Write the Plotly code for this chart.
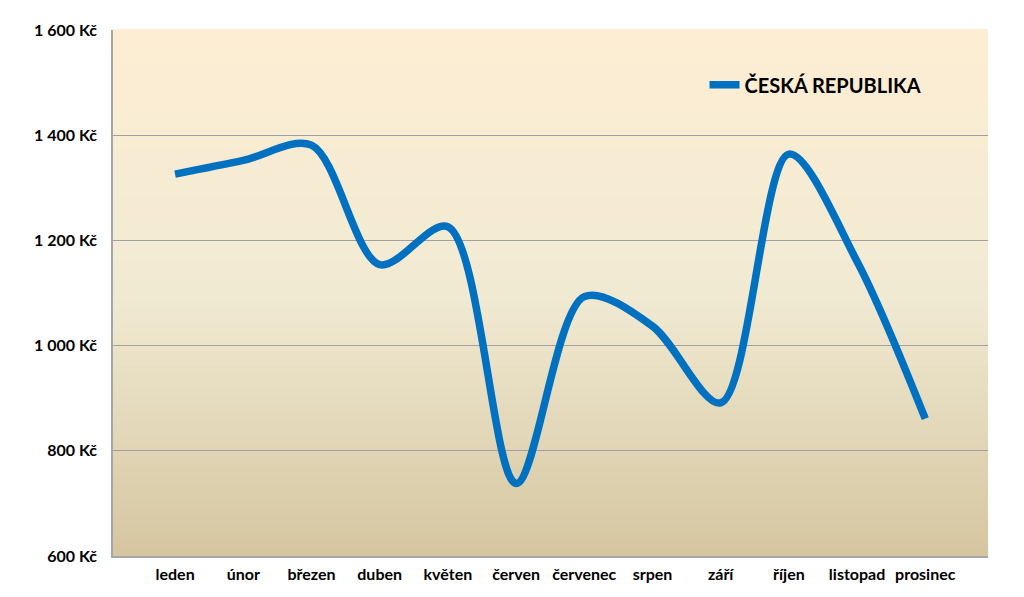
import plotly.graph_objects as go

months = ["leden", "únor", "březen", "duben", "květen", "červen",
          "červenec", "srpen", "září", "říjen", "listopad", "prosinec"]
prices = [1326, 1352, 1381, 1154, 1226, 738, 1093, 1037, 891, 1364, 1160, 861]
series_name = "ČESKÁ REPUBLIKA"
y_ticks = [600, 800, 1000, 1200, 1400, 1600]
y_tick_text = ["600 Kč", "800 Kč", "1 000 Kč", "1 200 Kč", "1 400 Kč", "1 600 Kč"]

fig = go.Figure()
fig.add_trace(go.Scatter(
    x=list(range(len(months))), y=prices, name=series_name, mode="lines",
    line=dict(color="#0070C0", width=7.5, shape="spline", smoothing=0.9),
))

# vertical gradient background
def lerp(c1, c2, t):
    return tuple(round(a + (b - a) * t) for a, b in zip(c1, c2))

stops = [(0.0, (0xD5, 0xC6, 0xA0)), (0.5, (0xF1, 0xEA, 0xD3)), (1.0, (0xFD, 0xEE, 0xD3))]
n = 80
shapes = []
for i in range(n):
    t = (i + 0.5) / n
    for j in range(len(stops) - 1):
        if stops[j][0] <= t <= stops[j + 1][0]:
            tt = (t - stops[j][0]) / (stops[j + 1][0] - stops[j][0])
            c = lerp(stops[j][1], stops[j + 1][1], tt)
            break
    shapes.append(dict(type="rect", xref="x domain", yref="y domain",
                       x0=0, x1=1, y0=i / n, y1=(i + 1) / n + 0.002,
                       fillcolor="rgb(%d,%d,%d)" % c, line=dict(width=0),
                       layer="below"))

font_family = "Lato"
fig.update_layout(
    width=1016, height=589,
    margin=dict(l=105, r=36, t=19, b=41),
    paper_bgcolor="white", plot_bgcolor="white",
    shapes=shapes,
    showlegend=True,
    legend=dict(x=0.676, y=0.896, xanchor="left", yanchor="middle",
                bgcolor="rgba(0,0,0,0)",
                font=dict(family=font_family, size=20, color="#000000", weight="bold")),
    xaxis=dict(
        tickmode="array", tickvals=list(range(len(months))), ticktext=months,
        range=[-0.91, 11.92], showgrid=False, zeroline=False,
        showline=True, linecolor="#A6A6A6", linewidth=1.5, ticks="outside",
        ticklen=3, tickcolor="rgba(0,0,0,0)",
        tickfont=dict(family=font_family, size=16, color="#000000", weight="bold"),
    ),
    yaxis=dict(
        range=[600, 1600], tickmode="array", tickvals=y_ticks, ticktext=y_tick_text,
        showgrid=True, gridcolor="#A0A0A0", gridwidth=1, zeroline=False,
        showline=True, linecolor="#A6A6A6", linewidth=1.5, ticks="outside",
        ticklen=11, tickcolor="rgba(0,0,0,0)",
        tickfont=dict(family=font_family, size=16, color="#000000", weight="bold"),
    ),
)

fig.write_html("out.html")
